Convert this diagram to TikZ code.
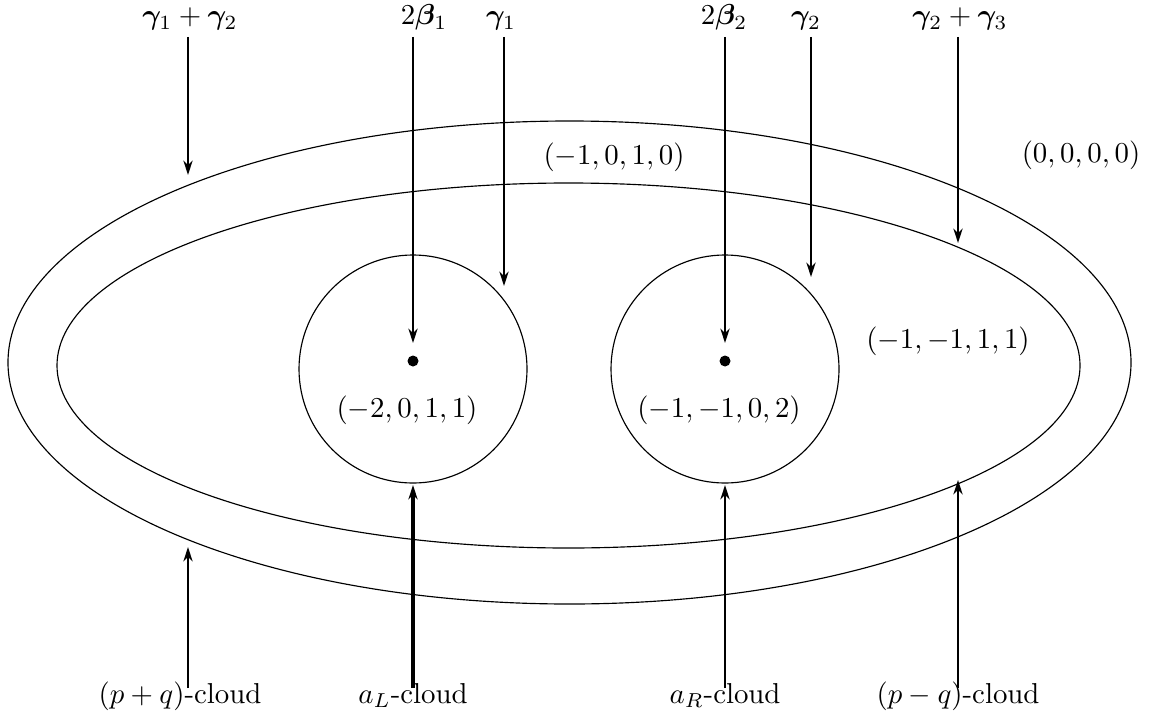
\documentclass[tikz,border=0pt]{standalone}
\usepackage{amsmath,amssymb,bm}
\usetikzlibrary{arrows.meta}
\begin{document}
\begin{tikzpicture}[x=0.347pt,y=-0.347pt,
  curve/.style={line width=0.4pt},
  arr/.style={line width=0.75pt,-{Stealth[length=5pt,width=3.2pt]}},
  lab/.style={inner sep=0pt,anchor=base},
  reg/.style={inner sep=0pt}]
\useasboundingbox (0,0) rectangle (1151,719);
% shapes
\draw[curve] (569.5,362.5) ellipse [x radius=561.5, y radius=241.5];
\draw[curve] (568.5,365.5) ellipse [x radius=511.5, y radius=182.5];
\draw[curve] (413,369) circle [radius=114];
\draw[curve] (725,369) circle [radius=114];
\fill (413,361) circle [radius=5.5];
\fill (725,361) circle [radius=5.5];
% region labels
\node[reg] (r1) at (614,157) {$(-1,0,1,0)$};
\node[reg] (r0) at (1081,155) {$(0,0,0,0)$};
\node[reg] (r2) at (948,341) {$(-1,-1,1,1)$};
\node[reg] (r3) at (407,410) {$(-2,0,1,1)$};
\node[reg] (r4) at (719,410) {$(-1,-1,0,2)$};
% top labels
\node[lab] (t1) at (190,25) {$\boldsymbol{\gamma}_1+\boldsymbol{\gamma}_2$};
\node[lab] (t2) at (424,25) {$2\boldsymbol{\beta}_1$};
\node[lab] (t3) at (501,25) {$\boldsymbol{\gamma}_1$};
\node[lab] (t4) at (724,25) {$2\boldsymbol{\beta}_2$};
\node[lab] (t5) at (806,25) {$\boldsymbol{\gamma}_2$};
\node[lab] (t6) at (960,25) {$\boldsymbol{\gamma}_2+\boldsymbol{\gamma}_3$};
% bottom labels
\node[lab] (b1) at (180,703) {$(p+q)$-cloud};
\node[lab] (b2) at (413,703) {$a_L$-cloud};
\node[lab] (b3) at (725,703) {$a_R$-cloud};
\node[lab] (b4) at (958,703) {$(p-q)$-cloud};
% arrow endpoints
\coordinate (s1) at (188,37); \coordinate (e1) at (188,175);
\coordinate (s2) at (413,37); \coordinate (e2) at (413,343);
\coordinate (s3) at (504,37); \coordinate (e3) at (504,286);
\coordinate (s4) at (725,37); \coordinate (e4) at (725,343);
\coordinate (s5) at (811,37); \coordinate (e5) at (811,277);
\coordinate (s6) at (958,37); \coordinate (e6) at (958,243);
\coordinate (u1) at (188,688); \coordinate (f1) at (188,547);
\coordinate (u2) at (413,688); \coordinate (f2) at (413,485);
\coordinate (u3) at (725,688); \coordinate (f3) at (725,485);
\coordinate (u4) at (958,688); \coordinate (f4) at (958,480);
\draw[arr] (s1) -- (e1);
\draw[arr] (s2) -- (e2);
\draw[arr] (s3) -- (e3);
\draw[arr] (s4) -- (e4);
\draw[arr] (s5) -- (e5);
\draw[arr] (s6) -- (e6);
\draw[arr] (u1) -- (f1);
\draw[arr,line width=1.05pt] (u2) -- (f2);
\draw[arr] (u3) -- (f3);
\draw[arr] (u4) -- (f4);
\end{tikzpicture}
\end{document}
